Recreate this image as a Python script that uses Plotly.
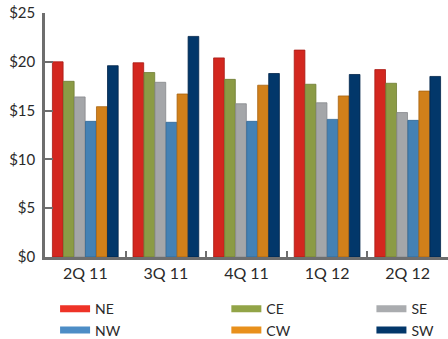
import plotly.graph_objects as go

# Quarterly price by region
quarters = ["2Q 11", "3Q 11", "4Q 11", "1Q 12", "2Q 12"]
regions = ["NE", "CE", "SE", "NW", "CW", "SW"]
ne = [20.0, 19.9, 20.4, 21.2, 19.2]
ce = [18.0, 18.9, 18.2, 17.7, 17.8]
se = [16.4, 17.9, 15.7, 15.8, 14.8]
nw = [13.9, 13.8, 13.9, 14.1, 14.0]
cw = [15.4, 16.7, 17.6, 16.5, 17.0]
sw = [19.6, 22.6, 18.8, 18.7, 18.5]
series = [ne, ce, se, nw, cw, sw]

y_ticks = [0, 5, 10, 15, 20, 25]
y_labels = ["$0", "$5", "$10", "$15", "$20", "$25"]

bar_colors = ["#D3271F", "#8B9B45", "#A4A6A9", "#4481B4", "#D1801A", "#02376A"]
edge_colors = ["#A81A14", "#6E7C33", "#86888B", "#2F6593", "#A86310", "#01254A"]
legend_colors = ["#EE3327", "#92A447", "#AAACAF", "#4D8DC6", "#E8901C", "#02376A"]
legend_ids = ["legend", "legend2", "legend3", "legend", "legend2", "legend3"]

FONT = "Lato"
TEXT = "#2a2a2a"
AXIS = "#6e6e6e"

fig = go.Figure()

for name, vals, col, edge in zip(regions, series, bar_colors, edge_colors):
    fig.add_trace(go.Bar(
        x=quarters, y=vals, name=name, showlegend=False,
        marker=dict(color=col, line=dict(color=edge, width=0.8)),
    ))

# legend entries drawn as thick line swatches
for name, col, lid in zip(regions, legend_colors, legend_ids):
    fig.add_trace(go.Scatter(
        x=[None], y=[None], mode="lines", name=name,
        line=dict(color=col, width=7), legend=lid,
    ))

legend_common = dict(
    orientation="v", yref="container", yanchor="top", y=0.135,
    xanchor="left",
    font=dict(family=FONT, size=14, color=TEXT),
    bgcolor="rgba(0,0,0,0)", borderwidth=0, tracegroupgap=0,
    itemwidth=30,
)

fig.update_layout(
    width=448, height=339,
    margin=dict(l=45, r=0, t=13, b=82, autoexpand=False),
    paper_bgcolor="white", plot_bgcolor="white",
    barmode="group", bargap=0.18, bargroupgap=0.03,
    font=dict(family=FONT, color=TEXT),
    legend=dict(x=0.025, **legend_common),
    legend2=dict(x=0.45, **legend_common),
    legend3=dict(x=0.81, **legend_common),
    xaxis=dict(
        type="category", showline=True, linecolor=AXIS, linewidth=2.5,
        ticks="inside", tickson="boundaries", ticklen=6, tickwidth=2,
        tickcolor=AXIS, showgrid=False, zeroline=False,
        tickfont=dict(family=FONT, size=16, color=TEXT),
    ),
    yaxis=dict(
        range=[0, 25], tickvals=y_ticks, ticktext=y_labels,
        showline=True, linecolor=AXIS, linewidth=2.5,
        ticks="inside", ticklen=8, tickwidth=2, tickcolor=AXIS,
        showgrid=False, zeroline=False, ticklabelstandoff=4,
        tickfont=dict(family=FONT, size=15, color=TEXT),
    ),
)

fig.write_html("out.html")
